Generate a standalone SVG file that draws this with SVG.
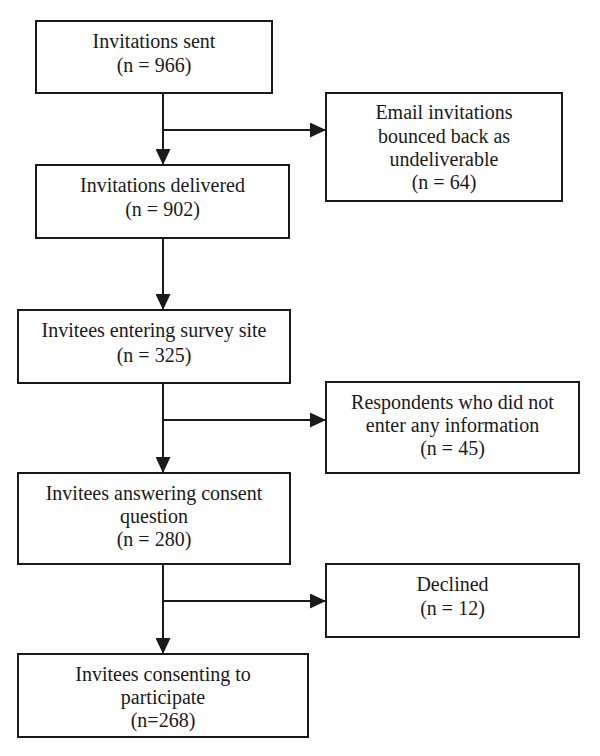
<svg xmlns="http://www.w3.org/2000/svg" width="600" height="756" viewBox="0 0 600 756">
<defs>
<style>
.box{fill:#fff;stroke:#1a1a1a;stroke-width:2}
.t{font-family:"Liberation Serif","Times New Roman",serif;font-size:20px;fill:#1a1a1a;text-anchor:middle}
.c{fill:none;stroke:#1a1a1a;stroke-width:2}
</style>
<marker id="ah" markerUnits="userSpaceOnUse" markerWidth="16" markerHeight="15" refX="16" refY="7.5" orient="auto">
<path d="M0,0 L16,7.5 L0,15 Z" fill="#1a1a1a"/>
</marker>
</defs>
<rect width="600" height="756" fill="#fff"/>
<g id="connectors">
<line class="c" x1="163" y1="93" x2="163" y2="165" marker-end="url(#ah)"/>
<line class="c" x1="163" y1="130" x2="326" y2="130" marker-end="url(#ah)"/>
<line class="c" x1="163" y1="238" x2="163" y2="310" marker-end="url(#ah)"/>
<line class="c" x1="163" y1="383" x2="163" y2="473" marker-end="url(#ah)"/>
<line class="c" x1="163" y1="420" x2="326" y2="420" marker-end="url(#ah)"/>
<line class="c" x1="163" y1="564" x2="163" y2="654" marker-end="url(#ah)"/>
<line class="c" x1="163" y1="601" x2="326" y2="601" marker-end="url(#ah)"/>
</g>
<g id="sent">
<rect class="box" x="36" y="21" width="236" height="72"/>
<text class="t" x="154" y="48">Invitations sent</text>
<text class="t" x="154" y="72">(n = 966)</text>
</g>
<g id="bounced">
<rect class="box" x="326" y="93" width="236" height="108"/>
<text class="t" x="444" y="119">Email invitations</text>
<text class="t" x="444" y="143">bounced back as</text>
<text class="t" x="444" y="166">undeliverable</text>
<text class="t" x="444" y="189">(n = 64)</text>
</g>
<g id="delivered">
<rect class="box" x="36" y="165" width="253" height="73"/>
<text class="t" x="162.5" y="192">Invitations delivered</text>
<text class="t" x="162.5" y="216">(n = 902)</text>
</g>
<g id="entering">
<rect class="box" x="18" y="310" width="272" height="73"/>
<text class="t" x="154" y="337">Invitees entering survey site</text>
<text class="t" x="154" y="362">(n = 325)</text>
</g>
<g id="noinfo">
<rect class="box" x="326" y="382" width="253" height="91"/>
<text class="t" x="452.5" y="409">Respondents who did not</text>
<text class="t" x="452.5" y="432">enter any information</text>
<text class="t" x="452.5" y="455">(n = 45)</text>
</g>
<g id="answering">
<rect class="box" x="18" y="473" width="272" height="91"/>
<text class="t" x="154" y="500">Invitees answering consent</text>
<text class="t" x="154" y="523">question</text>
<text class="t" x="154" y="546">(n = 280)</text>
</g>
<g id="declined">
<rect class="box" x="326" y="564" width="253" height="73"/>
<text class="t" x="452.5" y="591">Declined</text>
<text class="t" x="452.5" y="615">(n = 12)</text>
</g>
<g id="consenting">
<rect class="box" x="18" y="654" width="290" height="83"/>
<text class="t" x="163" y="681">Invitees consenting to</text>
<text class="t" x="163" y="704">participate</text>
<text class="t" x="163" y="727">(n=268)</text>
</g>
</svg>
